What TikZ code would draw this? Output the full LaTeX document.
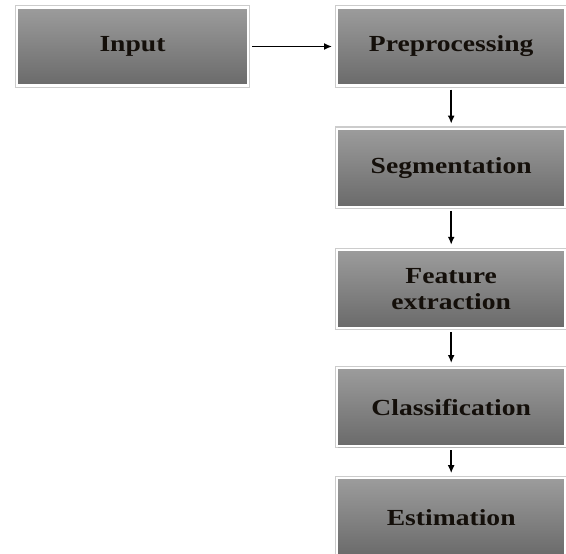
\documentclass[tikz,border=0pt]{standalone}
\usepackage{fontspec}
\setmainfont{Liberation Serif}[FakeStretch=1.2]
\usepackage{tikz}
\usetikzlibrary{positioning}
\usetikzlibrary{shadows}
\usetikzlibrary{arrows.meta}

\begin{document}
\begin{tikzpicture}[node distance = 41pt, auto]
% tikz settings
\fontsize{23}{26}\selectfont\bfseries
\tikzstyle{block} = [rectangle, draw=white, line width=2.2pt,
    preaction={draw=black!20, line width=4.6pt},
    top color={rgb,255:red,156;green,156;blue,156}, bottom color={rgb,255:red,106;green,106;blue,106},
    drop shadow={opacity=0.25, shadow xshift=1.2pt, shadow yshift=-1.4pt},
    text width=7.4cm, text centered, minimum width=228pt, minimum height=78pt, inner sep=2pt,
    text={rgb,255:red,20;green,15;blue,10}]
\tikzstyle{line} = [draw, line width=1.6pt, -{Latex[length=8pt,width=7pt]}, shorten >=4pt, shorten <=3pt]

\useasboundingbox (0,0) rectangle (566pt,-554pt);

% the tikz picture
\node [block, minimum width=231pt] (input) at (132.5pt,-46.5pt) {Input};
\node [block, right=87pt of input] (preprocessing) {Preprocessing};
\node [block, below=of preprocessing] (segmentation) {Segmentation};
\node [block, below=of segmentation, align=center] (feature) {Feature \\ extraction};
\node [block, below=38pt of feature] (classification) {Classification};
\node [block, below=30pt of classification] (estimation) {Estimation};

\path [line] (input) -- (preprocessing);
\path [line] (preprocessing) -- (segmentation);
\path [line] (segmentation) -- (feature);
\path [line] (feature) -- (classification);
\path [line] (classification) -- (estimation);
\end{tikzpicture}
\end{document}
